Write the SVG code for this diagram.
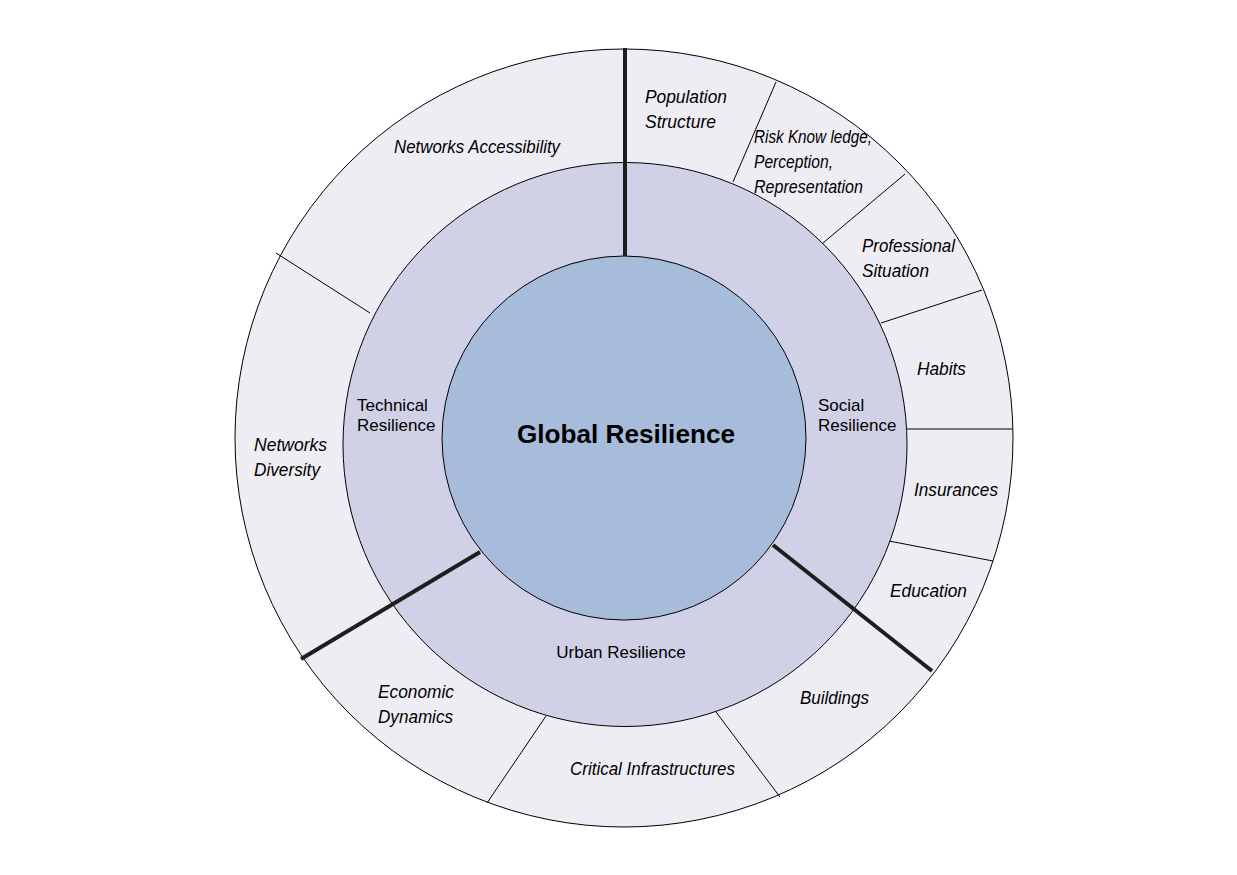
<svg xmlns="http://www.w3.org/2000/svg" width="1237" height="875" viewBox="0 0 1237 875">
<style>
.ring{stroke:#000;stroke-width:1}
.thin{stroke:#000;stroke-width:1;fill:none}
.thick{stroke:#1e1e1e;stroke-width:4;fill:none}
.lbl{font-family:"Liberation Sans",Arial,sans-serif;font-style:italic;font-size:18px;fill:#000}
.sm{font-family:"Liberation Sans",Arial,sans-serif;font-size:17px;fill:#000}
.big{font-family:"Liberation Sans",Arial,sans-serif;font-size:25px;font-weight:bold;fill:#000}
</style>
<rect width="1237" height="875" fill="#fff"/>
<g id="outer-ring">
<circle class="ring" cx="624" cy="438" r="389" fill="#EFEDF4"/>
</g>
<g id="connectors">
<line class="thin" x1="733" y1="182" x2="776" y2="82"/>
<line class="thin" x1="823" y1="243" x2="905" y2="174"/>
<line class="thin" x1="881" y1="323" x2="982" y2="290"/>
<line class="thin" x1="906" y1="429" x2="1012" y2="429"/>
<line class="thin" x1="889" y1="541" x2="993" y2="561"/>
<line class="thin" x1="716" y1="712" x2="780" y2="797"/>
<line class="thin" x1="546" y1="716" x2="487" y2="803"/>
<line class="thin" x1="370" y1="313" x2="276" y2="253"/>
</g>
<g id="middle-ring">
<circle class="ring" cx="625" cy="444.5" r="282" fill="#D0D1E6"/>
</g>
<g id="global-resilience">
<circle class="ring" cx="624" cy="438" r="182" fill="#A7BCDA"/>
<text class="big" x="517" y="443" textLength="218" lengthAdjust="spacingAndGlyphs">Global Resilience</text>
</g>
<g id="dividers">
<line class="thick" x1="625" y1="48" x2="625" y2="256"/>
<line class="thick" x1="773" y1="545" x2="932" y2="671"/>
<line class="thick" x1="480" y1="552" x2="301" y2="659"/>
</g>
<g id="technical-resilience">
<text class="sm" x="357" y="411">Technical</text>
<text class="sm" x="357" y="431">Resilience</text>
</g>
<g id="social-resilience">
<text class="sm" x="818" y="411">Social</text>
<text class="sm" x="818" y="431">Resilience</text>
</g>
<g id="urban-resilience">
<text class="sm" x="621" y="658" text-anchor="middle">Urban Resilience</text>
</g>
<g id="networks-accessibility">
<text class="lbl" x="394" y="153" textLength="166" lengthAdjust="spacingAndGlyphs">Networks Accessibility</text>
</g>
<g id="population-structure">
<text class="lbl" x="645" y="103" textLength="82" lengthAdjust="spacingAndGlyphs">Population</text>
<text class="lbl" x="645" y="128" textLength="71" lengthAdjust="spacingAndGlyphs">Structure</text>
</g>
<g id="risk-knowledge">
<text class="lbl" x="754" y="143" font-size="17" textLength="118" lengthAdjust="spacingAndGlyphs">Risk Know ledge,</text>
<text class="lbl" x="754" y="168" font-size="17" textLength="79" lengthAdjust="spacingAndGlyphs">Perception,</text>
<text class="lbl" x="754" y="193" font-size="17" textLength="109" lengthAdjust="spacingAndGlyphs">Representation</text>
</g>
<g id="professional-situation">
<text class="lbl" x="862" y="252" textLength="93" lengthAdjust="spacingAndGlyphs">Professional</text>
<text class="lbl" x="862" y="277" textLength="67" lengthAdjust="spacingAndGlyphs">Situation</text>
</g>
<g id="habits">
<text class="lbl" x="917" y="375" textLength="49" lengthAdjust="spacingAndGlyphs">Habits</text>
</g>
<g id="insurances">
<text class="lbl" x="914" y="496" textLength="84" lengthAdjust="spacingAndGlyphs">Insurances</text>
</g>
<g id="education">
<text class="lbl" x="890" y="597" textLength="77" lengthAdjust="spacingAndGlyphs">Education</text>
</g>
<g id="buildings">
<text class="lbl" x="800" y="704" textLength="69" lengthAdjust="spacingAndGlyphs">Buildings</text>
</g>
<g id="critical-infrastructures">
<text class="lbl" x="570" y="775" textLength="165" lengthAdjust="spacingAndGlyphs">Critical Infrastructures</text>
</g>
<g id="economic-dynamics">
<text class="lbl" x="378" y="698" textLength="76" lengthAdjust="spacingAndGlyphs">Economic</text>
<text class="lbl" x="378" y="723" textLength="75" lengthAdjust="spacingAndGlyphs">Dynamics</text>
</g>
<g id="networks-diversity">
<text class="lbl" x="254" y="451" textLength="73" lengthAdjust="spacingAndGlyphs">Networks</text>
<text class="lbl" x="254" y="476" textLength="66" lengthAdjust="spacingAndGlyphs">Diversity</text>
</g>
</svg>
